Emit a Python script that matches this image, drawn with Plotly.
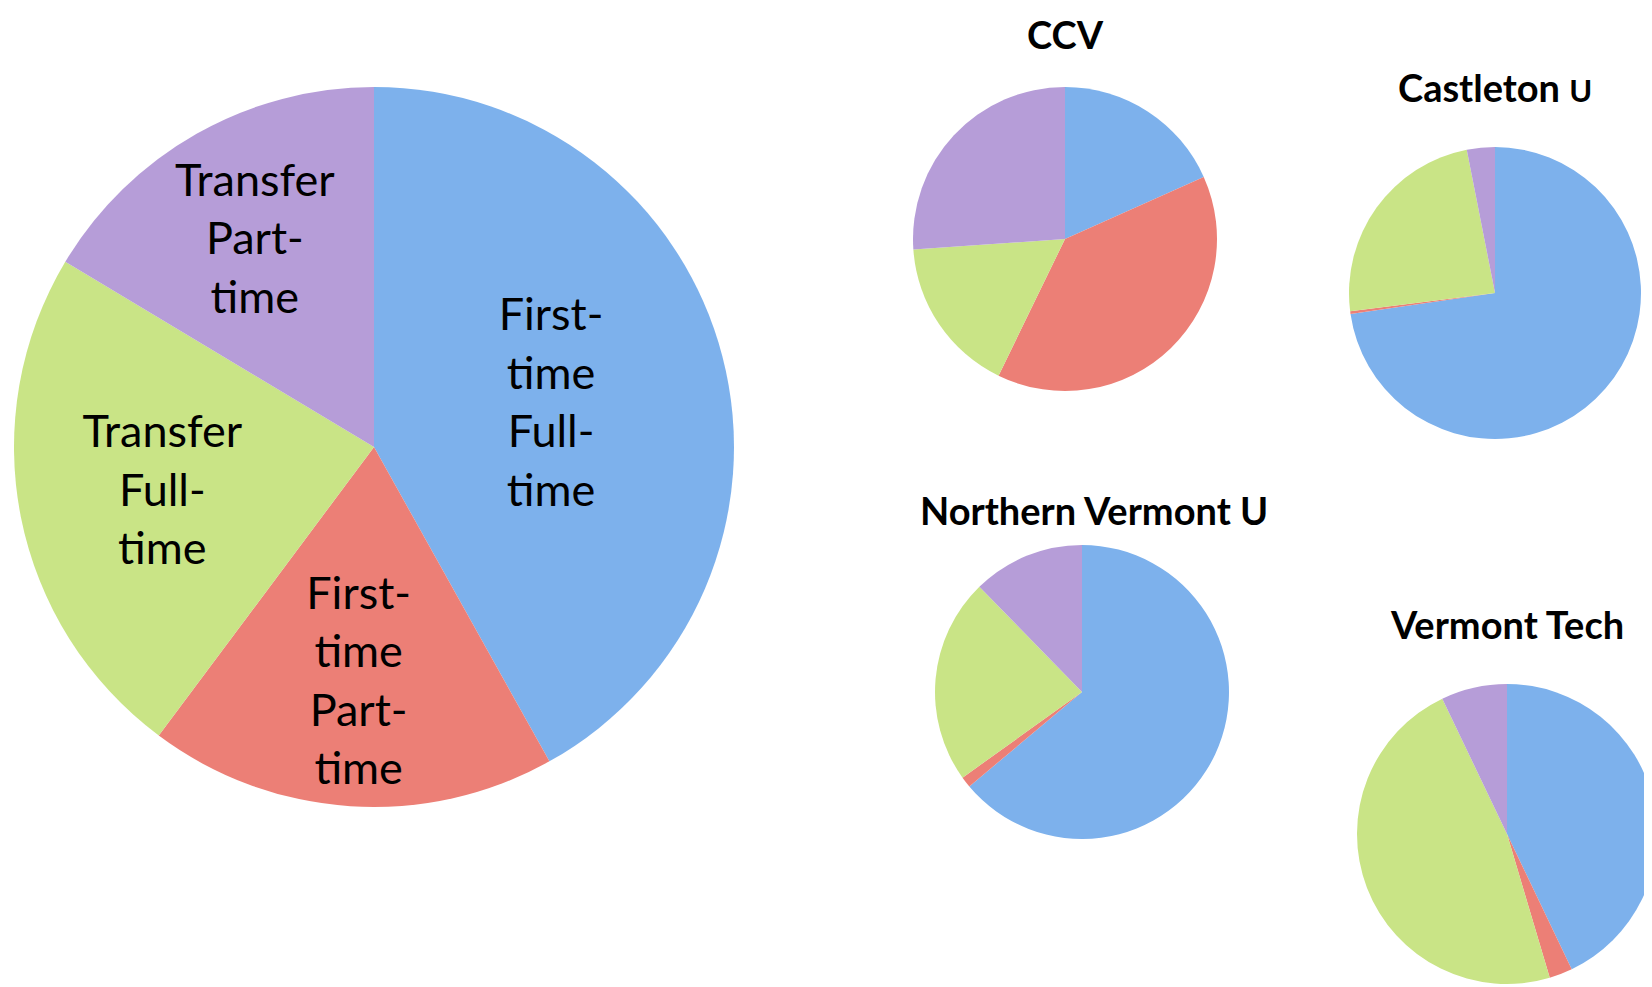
import plotly.graph_objects as go

W, H = 1652, 987
OFF = 8  # browser body margin

categories = ["First-time Full-time", "First-time Part-time", "Transfer Full-time", "Transfer Part-time"]
main_text = ["First-<br>time<br>Full-<br>time", "First-<br>time<br>Part-<br>time",
             "Transfer<br>Full-<br>time", "Transfer<br>Part-<br>time"]

overall = [41.9, 18.3, 23.4, 16.4]
ccv = [18.3, 38.9, 16.7, 26.1]
castleton = [72.7, 0.3, 23.9, 3.1]
northern = [63.9, 1.2, 22.6, 12.3]
vtech = [42.9, 2.5, 47.5, 7.1]

titles = ["CCV", "Castleton <span style='font-size:31px'>U</span>", "Northern Vermont U", "Vermont Tech"]
colors = ["#7DB1EC", "#EC7F76", "#C9E486", "#B69DD8"]

FONT = "Lato, 'Open Sans', sans-serif"


def dom(cx, cy, r):
    cx -= OFF
    cy -= OFF
    x0 = max(0.0, (cx - r) / W)
    x1 = min(1.0, (cx + r) / W)
    y0 = max(0.0, (H - (cy + r)) / H)
    y1 = min(1.0, (H - (cy - r)) / H)
    return dict(x=[x0, x1], y=[y0, y1])


fig = go.Figure()

fig.add_trace(go.Pie(
    labels=categories, values=overall, text=main_text,
    textinfo="text", textposition="inside", insidetextorientation="horizontal",
    textfont=dict(family=FONT, size=45, color="black"),
    marker=dict(colors=colors, line=dict(width=0)),
    sort=False, direction="clockwise", rotation=0,
    domain=dom(374, 447, 360), hoverinfo="label+percent", showlegend=False,
))

small = [
    (ccv, 1065, 239, 152),
    (castleton, 1495, 293, 146),
    (northern, 1082, 692, 147),
    (vtech, 1507, 834, 150),
]
for vals, cx, cy, r in small:
    fig.add_trace(go.Pie(
        labels=categories, values=vals, textinfo="none",
        marker=dict(colors=colors, line=dict(width=0)),
        sort=False, direction="clockwise", rotation=0,
        domain=dom(cx, cy, r), hoverinfo="label+percent", showlegend=False,
    ))

title_pos = [(1065, 34), (1495, 87), (1094, 510), (1507, 624)]
for t, (x, y) in zip(titles, title_pos):
    fig.add_annotation(
        text=f"<b>{t}</b>", x=(x - OFF) / W, y=1 - (y - OFF) / H, xref="paper", yref="paper",
        xanchor="center", yanchor="middle", showarrow=False,
        font=dict(family=FONT, size=38, color="black"),
    )

fig.update_layout(
    width=W, height=H, margin=dict(l=0, r=0, t=0, b=0),
    paper_bgcolor="white", plot_bgcolor="white",
)

fig.write_html("out.html")
